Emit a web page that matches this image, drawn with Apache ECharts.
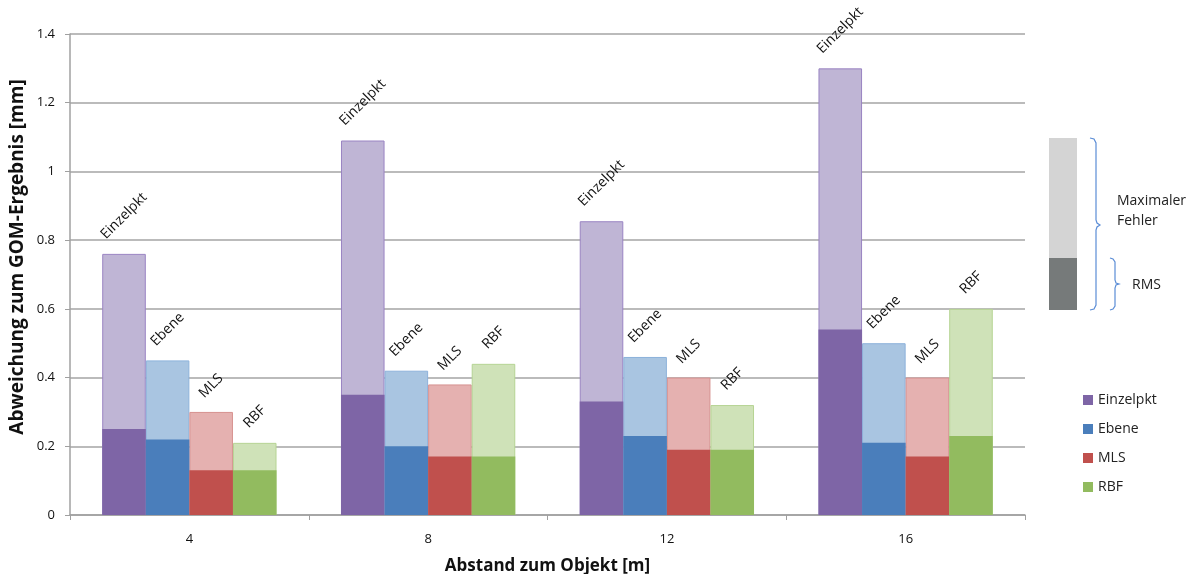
<!DOCTYPE html>
<html>
<head>
<meta charset="utf-8">
<script src="https://cdn.jsdelivr.net/npm/echarts@6/dist/echarts.min.js"></script>
<style>
  html, body { margin: 0; padding: 0; background: #fff; }
  #chart { width: 1192px; height: 574px; }
</style>
</head>
<body>
<div id="chart"></div>
<script>
  // Abstand zum Objekt [m]
  var categories = ["4", "8", "12", "16"];
  var methods = ["Einzelpkt", "Ebene", "MLS", "RBF"];
  var yTicks = [0, 0.2, 0.4, 0.6, 0.8, 1, 1.2, 1.4];

  // Maximaler Fehler je Verfahren
  var maxEinzelpkt = [0.76, 1.09, 0.855, 1.30];
  var maxEbene = [0.45, 0.42, 0.46, 0.50];
  var maxMLS = [0.30, 0.38, 0.40, 0.40];
  var maxRBF = [0.21, 0.44, 0.32, 0.60];

  // RMS je Verfahren
  var rmsEinzelpkt = [0.25, 0.35, 0.33, 0.54];
  var rmsEbene = [0.22, 0.20, 0.23, 0.21];
  var rmsMLS = [0.13, 0.17, 0.19, 0.17];
  var rmsRBF = [0.13, 0.17, 0.19, 0.23];

  var maxData = [maxEinzelpkt, maxEbene, maxMLS, maxRBF];
  var rmsData = [rmsEinzelpkt, rmsEbene, rmsMLS, rmsRBF];

  var darkColors = ["#7E65A6", "#4A7EBB", "#C0504D", "#92BB5F"];
  var lightColors = ["#BFB5D5", "#A9C5E1", "#E5B1B0", "#CFE2B8"];
  var borderColors = ["#9A84C3", "#8DB2DB", "#D79290", "#B6D494"];
  // Abstand Beschriftung -> Balkenoberkante
  var labelDist = [38, 31, 26, 26];

  var font = "'Open Sans', 'Liberation Sans', sans-serif";
  var braceStyle = { stroke: "#5B8DD6", lineWidth: 1.2, fill: null };

  var chart = echarts.init(document.getElementById("chart"));

  var series = [];
  methods.forEach(function (m, i) {
    series.push({
      name: m + " max",
      type: "bar",
      xAxisIndex: 0,
      barGap: "0%",
      barCategoryGap: "27%",
      data: maxData[i],
      itemStyle: {
        color: lightColors[i],
        borderColor: borderColors[i],
        borderWidth: 1,
      },
      label: {
        show: true,
        position: "top",
        distance: labelDist[i],
        rotate: 45,
        align: "center",
        verticalAlign: "middle",
        formatter: m,
        fontFamily: font,
        fontSize: 14,
        color: "#111",
      },
      silent: true,
    });
  });
  methods.forEach(function (m, i) {
    series.push({
      name: m,
      type: "bar",
      xAxisIndex: 1,
      barGap: "0%",
      barCategoryGap: "27%",
      data: rmsData[i],
      itemStyle: { color: darkColors[i] },
      silent: true,
    });
  });

  chart.setOption({
    animation: false,
    textStyle: { fontFamily: font },
    grid: { left: 70, right: 167, top: 34, bottom: 59, outerBoundsMode: "none" },
    legend: {
      data: methods,
      orient: "vertical",
      left: 1083,
      top: 393,
      padding: 0,
      itemWidth: 10,
      itemHeight: 10,
      itemGap: 15,
      selectedMode: false,
      icon: "rect",
      textStyle: { fontFamily: font, fontSize: 14, color: "#222" },
    },
    xAxis: [
      {
        type: "category",
        data: categories,
        axisLine: { lineStyle: { color: "#A0A0A0", width: 1.5 } },
        axisTick: { show: true, length: 5, lineStyle: { color: "#A0A0A0" } },
        axisLabel: { margin: 18, fontSize: 13, color: "#111", fontFamily: font },
        name: "Abstand zum Objekt [m]",
        nameLocation: "middle",
        nameGap: 43,
        nameTextStyle: { fontSize: 17, fontWeight: "bold", color: "#111", fontFamily: font },
      },
      {
        type: "category",
        data: categories,
        show: false,
      },
    ],
    yAxis: {
      type: "value",
      min: yTicks[0],
      max: yTicks[yTicks.length - 1],
      interval: yTicks[1] - yTicks[0],
      axisLine: { show: true, lineStyle: { color: "#A0A0A0", width: 1.5 } },
      axisTick: { show: true, length: 5, lineStyle: { color: "#A0A0A0" } },
      splitLine: { lineStyle: { color: "#A4A4A4", width: 1.5 } },
      axisLabel: {
        margin: 15,
        fontSize: 13,
        color: "#111",
        fontFamily: font,
        formatter: function (v) { return String(+v.toFixed(1)); },
      },
    },
    graphic: [
      {
        type: "text",
        x: 18,
        y: 257,
        rotation: Math.PI / 2,
        style: {
          text: "Abweichung zum GOM-Ergebnis [mm]",
          font: "bold 19px " + font,
          fill: "#111",
          textAlign: "center",
          textVerticalAlign: "middle",
        },
      },
      // Legende Maximaler Fehler / RMS
      { type: "rect", shape: { x: 1049, y: 138, width: 28, height: 120 }, style: { fill: "#D4D4D4" } },
      { type: "rect", shape: { x: 1049, y: 258, width: 28, height: 52 }, style: { fill: "#767A7A" } },
      {
        type: "polyline",
        shape: {
          points: [[1090, 138], [1094, 139], [1096, 143], [1096, 220], [1097, 223], [1100, 225],
                   [1097, 227], [1096, 230], [1096, 305], [1094, 309], [1090, 310]],
        },
        style: braceStyle,
      },
      {
        type: "polyline",
        shape: {
          points: [[1110, 258], [1113, 259], [1115, 262], [1115, 280], [1116, 283], [1119, 284],
                   [1116, 285], [1115, 288], [1115, 306], [1113, 309], [1110, 310]],
        },
        style: braceStyle,
      },
      {
        type: "text", x: 1117, y: 201,
        style: { text: "Maximaler", font: "14px " + font, fill: "#222", textVerticalAlign: "middle" },
      },
      {
        type: "text", x: 1117, y: 221,
        style: { text: "Fehler", font: "14px " + font, fill: "#222", textVerticalAlign: "middle" },
      },
      {
        type: "text", x: 1132, y: 285,
        style: { text: "RMS", font: "14px " + font, fill: "#222", textVerticalAlign: "middle" },
      },
    ],
    series: series,
  });
</script>
</body>
</html>
